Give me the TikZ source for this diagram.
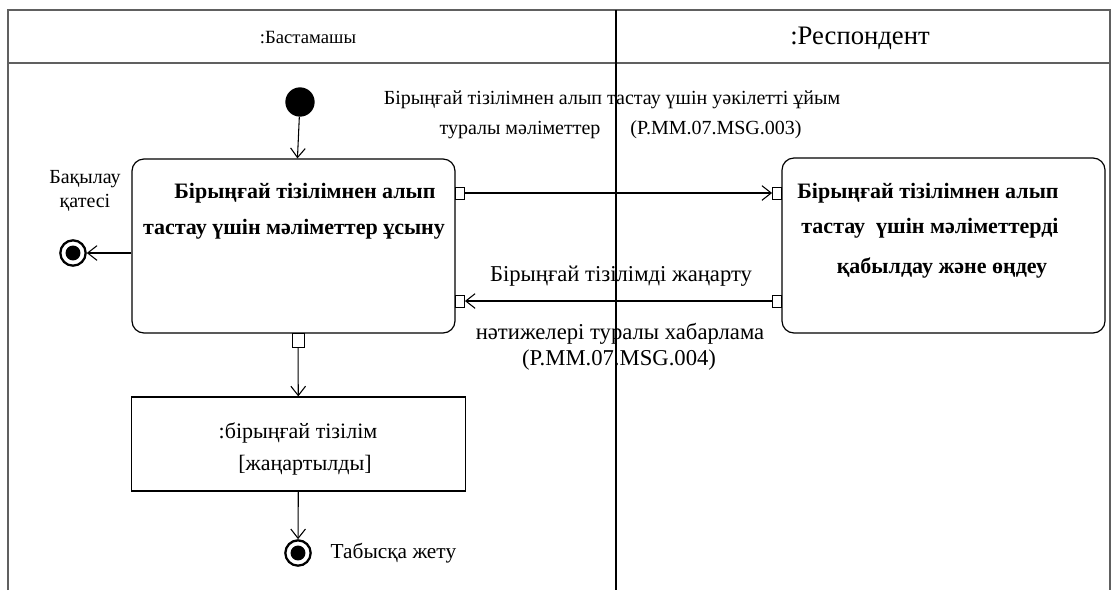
\documentclass[tikz,border=0pt]{standalone}
\usepackage{fontspec}
\setmainfont{Liberation Serif}
\newfontfamily\tnr{Liberation Serif}
\usetikzlibrary{arrows.meta,positioning}

\begin{document}
\begin{tikzpicture}[x=0.75pt, y=-0.75pt,
	lane/.style={gray!75!black, line width=1.1pt},
	act/.style={draw, rounded corners=9pt, line width=0.9pt, inner sep=0pt},
	obj/.style={draw, line width=0.9pt, inner sep=0pt},
	pin/.style={draw, fill=white, line width=0.7pt, minimum width=6.75pt, minimum height=9pt, inner sep=0pt},
	flow/.style={-{Straight Barb[length=7pt, width=11pt]}, line width=0.8pt},
	txt/.style={font=\tnr\fontsize{#1}{#1}\selectfont},
	btxt/.style={font=\tnr\bfseries\fontsize{#1}{#1}\selectfont},
	startnode/.style={circle, fill=black, minimum width=18pt, minimum height=22pt, inner sep=0pt},
	endnode/.style={circle, draw, line width=1.7pt, minimum size=19pt, inner sep=0pt,
		path picture={\fill (path picture bounding box.center) circle (5.6pt);}},
	]
	
	\useasboundingbox (0,0) rectangle (1116,590);
	
	%% swimlanes
	\draw[lane] (8,590) -- (8,10) -- (1110,10) -- (1110,590);
	\draw[lane] (8,63) -- (1110,63);
	\draw[line width=0.8pt] (616,10) -- (616,590);
	\node[txt=14] (hdrL) at (308,38) {:Бастамашы};
	\node[txt=20] (hdrR) at (860,38) {:Респондент};
	
	%% activities
	\node[act, minimum width=242.25pt, minimum height=130.5pt] (send) at (293.5,246) {};
	\node[act, minimum width=242.25pt, minimum height=131.25pt] (recv) at (943.5,245.5) {};
	\node[obj, minimum width=251pt, minimum height=70.5pt] (reg) at (298.5,444) {};
	
	\node[btxt=16.5] (sendA) at (305,193) {Бірыңғай тізілімнен алып};
	\node[btxt=16.5] (sendB) at (294,229) {тастау\ үшін мәліметтер ұсыну};
	\node[btxt=16.5] (recvA) at (928,193) {Бірыңғай\ тізілімнен алып};
	\node[btxt=16.5] (recvB) at (930,228) {тастау\ \ үшін мәліметтерді};
	\node[btxt=16.5] (recvC) at (942,268) {қабылдау және өңдеу};
	\node[txt=16.5] (regA) at (298,433) {:бірыңғай тізілім};
	\node[txt=16.5] (regB) at (305,465) {[жаңартылды]};
	
	%% pins
	\node[pin, anchor=west] (sendOut) at (455,193) {};
	\node[pin, anchor=west] (sendIn)  at (455,301) {};
	\node[pin, anchor=east] (recvIn)  at (782,193) {};
	\node[pin, anchor=east] (recvOut) at (782,301) {};
	\node[pin, minimum width=9pt, minimum height=10.5pt, anchor=north] (sendDown) at (298,333) {};
	
	%% initial and final nodes
	\node[startnode] (start) at (300,102) {};
	\node[endnode] (errEnd) at (73,253) {};
	\node[endnode] (okEnd) at (298,553) {};
	\node[txt=15, align=center] (errLbl) at (85,191) {Бақылау\\[3pt]қатесі};
	\node[txt=16, anchor=west] (okLbl) at (326,553) {Табысқа жету};
	
	%% message labels
	\node[txt=15] (msg1a) at (612,100) {Бірыңғай тізілімнен алып тастау үшін уәкілетті ұйым};
	\node[txt=15] (msg1b) at (520,130) {туралы мәліметтер};
	\node[txt=15] (msg1c) at (716,130) {(P.MM.07.MSG.003)};
	\node[txt=17] (msg2a) at (621,276) {Бірыңғай тізілімді жаңарту};
	\node[txt=17] (msg2b) at (620,334) {нәтижелері туралы хабарлама};
	\node[txt=17] (msg2c) at (619,360) {(P.MM.07.MSG.004)};
	
	%% flows
	\draw[flow] (start) -- (send);
	\draw[flow] (send.west |- errEnd) -- (errEnd);
	\draw[flow] (sendOut) -- (recvIn);
	\draw[flow] (recvOut) -- (sendIn);
	\draw[flow] (sendDown) -- (reg);
	\draw[flow] (reg) -- (okEnd);
	
\end{tikzpicture}
\end{document}
